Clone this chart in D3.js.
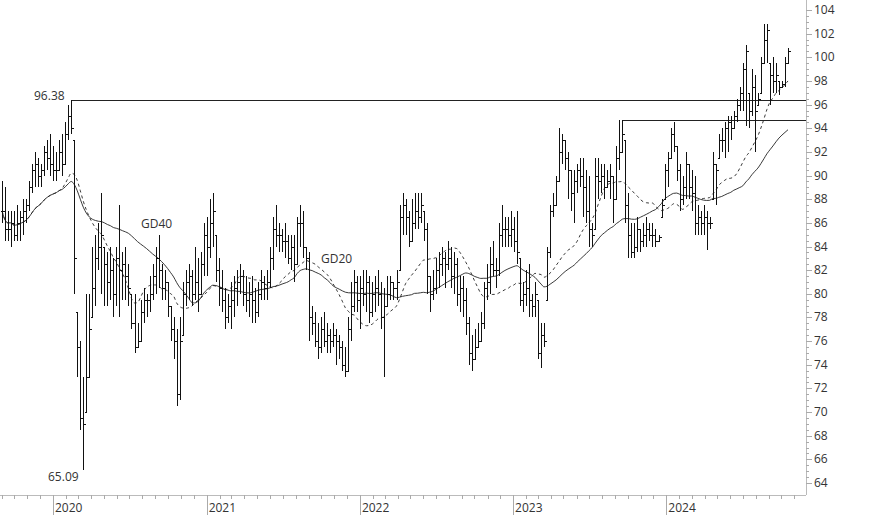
<!DOCTYPE html>
<html><head><meta charset="utf-8">
<script src="https://cdn.jsdelivr.net/npm/d3@7"></script>
<style>body{margin:0;background:#fff}svg{display:block}text{font-family:"Open Sans",sans-serif;font-size:12px;fill:#333}</style>
</head><body><svg id="c" width="874" height="515"></svg>
<script>
const highs=[89.5,89,87,87,87,87.5,87,88,88,89.5,91,92,91.5,91,92.5,93,93.5,92.5,92,93,93.5,94.5,96,96.38,
93,78.5,76,73,80,80,84,85,86,88.5,84,83.5,84,83,84,87.5,83.5,84,82.5,80,80,77.5,79.5,80.5,80,81.5,82.5,84,85,82.5,82,81,79,78,77,78,81,82,82.5,82,84,83,83.5,86,86.5,88,88.5,
85,83,82,80.5,80,81,81.5,82,82.5,82,81.5,81,81.5,80.5,81,82,81.5,82,84,86.5,87.5,86,85.5,86,85,85,85,86.5,87.5,87,84,
83.5,79,78.5,77.5,78,78.5,77.5,77,77.5,77,76.5,76,75.5,78,81,82,81.5,81.5,82,82,81.5,81,81.5,82,81,80.5,81.5,81.5,81,82,
87.5,88.5,88,87,88,88.5,88.5,88.5,87,86,81.5,82,83,83.5,84,83.5,84.5,84,83.5,83,81.5,81.5,80.5,78,76.5,77,77.5,78.5,81,82.5,84,84.5,83,86,87.5,86.5,86.5,87,86.5,87,
83,81,82,82.5,80,81,79.5,77.5,77.5,
84,87.5,88.5,90,94,93.5,93,92,90.5,90.5,91,91.5,91.5,90.5,90,86,91.5,91.5,91,91,90.5,91,90,92.5,94.7,94.7,93,88.5,86,86,86.5,85.5,86,86.5,86,86,85.5,85,
88,91,92,94,94.5,92.5,91,90,92,91,90.5,90,87.5,87,87.5,87,86.5,92,91,93.5,94,94.5,95,95,95.5,96.5,97.5,99.5,101,97,99,98.5,97,100,102.8,102.8,99.5,100,99.5,98,98,100,100.8];
const lows=[86,84.5,84.5,84,84.5,84.5,84.5,85,86,87,88.5,89,89,89,90,90.5,90,89.5,89.5,90.5,90,91,93,93.5,
80,73,68.5,65.09,70,73,78,79,82,80,79,79,79.5,78,79,78,79.5,79.5,79,77,75,75.5,76,77.5,78,78.5,79.5,80,80.5,79.5,79.5,78,76,74.5,70.5,71,76.5,79,79.5,79,79.5,78.5,80,81.5,81.5,83,84,
81,79,78.5,77,77.5,77,78,79,80,79,78.5,78,77.5,77.5,78,79.5,79.5,79.5,80.5,82,84,83.5,83.5,83,82.5,82,81,82.5,84,83,82,
76,76.5,75.5,74.5,75,75.5,75,75,75.5,74,74.5,73.5,73,73.5,76,78.5,78.5,77,79,78.5,77.5,78,78.5,79,77,73,79,79.5,79.5,79.5,
82,85,85,84,84.5,85.5,85.5,86,84.5,80,78.5,79.5,80,80.5,81.5,80.5,82,80.5,80,79,78.5,78,76.5,74,73.5,74.5,75.5,76,77,79.5,80,81.5,80.5,81.5,84,84,84,84,83.5,82.5,
79,78.5,79,78,78,78,74.5,73.7,75.5,
79.5,83,86.5,87.5,89.5,91,90.5,88,87,86,88.5,89,86.5,86,84,84,85.5,88,88.5,88,89,88,86,88,90.5,92,86,83,83,83,83.5,83.5,84,84,84.5,84,84,84.5,
86.5,88,89,91.5,92,89.5,87,87.5,88,88,87,85,85,85,85,83.7,85.5,88,87.5,91.5,92,91.5,92,93,94,94.5,95.5,95.5,94.2,94,95,92,96,97,99.5,99.5,96,97,97,96.8,97.5,97.5,99.5];
const closes=[87,85.5,85.5,86,85,86,86.5,87,87.5,89,90.5,91,90,90.5,92,91.5,91,90.5,90.5,92,91,93.5,95,94,
83,75.5,69.5,69,73,77,80.5,83,84,85,82.5,81,82,80,83,82,82.5,81.5,80.5,77.5,75.5,76,78.5,79.5,79.5,80,81.5,83,82,80.5,81,79,77,76,71.5,76,80,81,81.5,80,81,80,82.5,85,84,86,87,
82,80.5,79.5,78,79,79.5,80.5,81,81.5,80,79.5,80,79.5,78.5,80,81,80.5,81,83,85.5,85,85,84.5,84.5,83,84,82.5,86,86,84,83,
78,77.5,76,75.5,77,76,76.5,76,76.5,76,75.5,74,73.5,77,79,81,79.5,80.5,80,81,78.5,80,80.5,80,78,79,80,81,80.5,81,
86.5,87.5,86.5,84.5,86,87,86.5,87.5,85.5,81.5,80,80.5,82,82.5,83,82.5,83,81.5,82.5,80,80.5,79.5,77.5,75,74.5,75.5,76,77.5,80.5,81,82.5,82,82,85,85.5,85.5,85,85.5,84.5,83.5,
79.5,80,80.5,79.5,79,80,75,76.5,76,
83.5,87,87.5,89.5,92,93,91.5,90.5,88.5,89.5,90.5,90,89,87,85.5,85,90,89.5,90,89,89.5,90,88,91.5,92,93.5,87.5,85,83.5,84,85.5,84.5,85,85.5,85,85,84.5,84.8,
87.5,90.5,91.5,93.5,92.5,90.5,88,89,91,89,88.5,86,86.5,86,86.5,86,86,91,90.5,93,93,94,94.5,94,95,96,97,99,100.5,95.5,97.5,95.5,96.5,99.5,101.5,102.3,98.5,98,98.5,97.5,97.7,99.5,100.5];
const yTicks=d3.range(64,105,2);
const years=["2020","2021","2022","2023","2024"];
const maLabels=["GD20","GD40"];

const svg=d3.select("#c");
const N=closes.length;
const x=d3.scaleLinear().domain([0,N-1]).range([2,788]);
const y=d3.scaleLinear().domain([64,104]).range([483,10]);
const t=d3.scaleTime().domain([new Date(2020,0,1),new Date(2025,0,1)]).range([53,820]);
const AX=806, AY=495;

svg.append("line").attr("x1",AX+.5).attr("x2",AX+.5).attr("y1",0).attr("y2",AY).attr("stroke","#bbb");
svg.append("line").attr("x1",0).attr("x2",AX).attr("y1",AY+.5).attr("y2",AY+.5).attr("stroke","#bbb");
const minor=d3.range(64,104.01,0.5);
svg.selectAll(".ym").data(minor).join("line").attr("x1",AX).attr("x2",d=>AX+(d%2===0?6:3))
 .attr("y1",d=>Math.round(y(d))+0.5).attr("y2",d=>Math.round(y(d))+0.5).attr("stroke","#aaa");
svg.selectAll(".yl").data(yTicks).join("text").attr("x",814).attr("y",d=>y(d)+4).text(d=>d);
const months=d3.timeMonth.range(new Date(2019,8,1),new Date(2024,11,1));
svg.selectAll(".xm").data(months.filter(m=>t(m)<AX)).join("line")
 .attr("x1",d=>Math.round(t(d))+0.5).attr("x2",d=>Math.round(t(d))+0.5).attr("y1",AY).attr("y2",d=>d.getMonth()===0?515:AY+4).attr("stroke","#aaa");
svg.selectAll(".xl").data(years).join("text").attr("x",d=>t(new Date(+d,0,1))+2).attr("y",512).text(d=>d);

const hLevels=[{v:96.38,i:23},{v:94.7,i:N-56}];
hLevels.forEach(h=>svg.append("line").attr("x1",x(h.i)).attr("x2",AX).attr("y1",Math.round(y(h.v))+0.5).attr("y2",Math.round(y(h.v))+0.5).attr("stroke","#222"));

function ma(n){return closes.map((c,i)=>d3.mean(closes.slice(Math.max(0,i-n+1),i+1)));}
const line=d3.line().x((d,i)=>x(i)).y(d=>y(d)).curve(d3.curveMonotoneX);
svg.append("path").attr("d",line(ma(20))).attr("fill","none").attr("stroke","#222").attr("stroke-width",0.9).attr("stroke-dasharray","3,3");
svg.append("path").attr("d",line(ma(40))).attr("fill","none").attr("stroke","#222").attr("stroke-width",0.9);

const g=svg.append("g").attr("stroke","#111").attr("stroke-width",1).attr("shape-rendering","crispEdges");
closes.forEach((c,i)=>{
  const xi=Math.round(x(i))+0.5, o=Math.min(Math.max(i>0?closes[i-1]:c,lows[i]),highs[i]);
  g.append("line").attr("x1",xi).attr("x2",xi).attr("y1",y(highs[i])).attr("y2",y(lows[i]));
  g.append("line").attr("x1",xi-2).attr("x2",xi).attr("y1",Math.round(y(o))+.5).attr("y2",Math.round(y(o))+.5);
  g.append("line").attr("x1",xi).attr("x2",xi+2).attr("y1",Math.round(y(c))+.5).attr("y2",Math.round(y(c))+.5);
});

svg.append("text").attr("x",34).attr("y",100).text("96.38");
svg.append("text").attr("x",48).attr("y",481).text("65.09");
svg.append("text").attr("x",141).attr("y",228).text(maLabels[1]);
svg.append("text").attr("x",321).attr("y",263).text(maLabels[0]);
</script></body></html>
